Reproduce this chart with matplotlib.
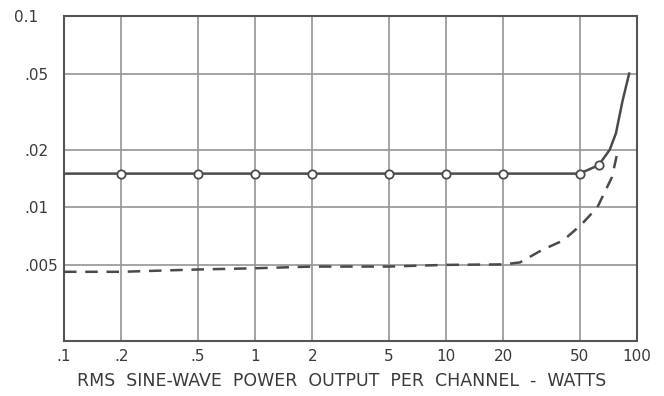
import matplotlib
matplotlib.use("Agg")
import matplotlib.pyplot as plt
import matplotlib.transforms as mtransforms

# Data
x_ticks = [0.1, 0.2, 0.5, 1, 2, 5, 10, 20, 50, 100]
x_tick_labels = [".1", ".2", ".5", "1", "2", "5", "10", "20", "50", "100"]
y_ticks = [0.005, 0.01, 0.02, 0.05, 0.1]
y_tick_labels = [".005", ".01", ".02", ".05", "0.1"]

solid_x = [0.1, 0.2, 0.5, 1, 2, 5, 10, 20, 50, 63, 72, 77.6, 84, 91]
solid_y = [0.015, 0.015, 0.015, 0.015, 0.015, 0.015, 0.015, 0.015, 0.015,
           0.0166, 0.020, 0.0244, 0.036, 0.050]
marker_x = [0.2, 0.5, 1, 2, 5, 10, 20, 50, 63]
marker_y = [0.015, 0.015, 0.015, 0.015, 0.015, 0.015, 0.015, 0.015, 0.0166]

dashed_x = [0.1, 0.2, 0.5, 1, 2, 5, 10, 20, 24.4, 32, 41, 51, 62, 74, 80]
dashed_y = [0.0046, 0.0046, 0.00473, 0.0048, 0.0049, 0.0049, 0.005, 0.00503,
            0.00515, 0.0060, 0.0067, 0.0081, 0.0100, 0.0144, 0.0205]

x_label = "RMS  SINE-WAVE  POWER  OUTPUT  PER  CHANNEL  -  WATTS"

line_col = "#4a4a4a"
grid_col = "#959595"
text_col = "#3a3a3a"

fig = plt.figure(figsize=(6.64, 3.96), dpi=100)
ax = fig.add_axes([64/664, 1-341/396, (637-64)/664, (341-16)/396])
ax.set_xscale("log")
ax.set_yscale("log")
ax.set_xlim(0.1, 100)
ax.set_ylim(0.002, 0.1)

ax.minorticks_off()
ax.set_xticks(x_ticks)
ax.set_xticklabels(x_tick_labels)
ax.set_yticks(y_ticks)
ax.set_yticklabels(y_tick_labels)
ax.tick_params(axis="both", length=0, labelsize=11, colors=text_col)
ax.tick_params(axis="x", pad=6)
ax.tick_params(axis="y", pad=40 * 0.72)
for lbl in ax.get_yticklabels():
    lbl.set_horizontalalignment("left")
    if lbl.get_text() == "0.1":
        lbl.set_transform(lbl.get_transform() +
                          mtransforms.ScaledTranslation(-10/100, 0, fig.dpi_scale_trans))
ax.grid(True, color=grid_col, linewidth=1.2)
for s in ax.spines.values():
    s.set_color("#555555")
    s.set_linewidth(1.5)

ax.plot(solid_x, solid_y, color=line_col, linewidth=1.8, zorder=3)
ax.plot(marker_x, marker_y, linestyle="none", marker="o", markersize=6,
        markerfacecolor="white", markeredgecolor=line_col, markeredgewidth=1.3, zorder=4)
ax.plot(dashed_x, dashed_y, color=line_col, linewidth=1.8, linestyle=(0, (5, 3.5)), zorder=3)

ax.set_xlabel(x_label, fontsize=12.5, color=text_col)
ax.xaxis.set_label_coords((342 - 64) / 573, (341 - 372) / 325)

fig.savefig("out.png", dpi=100)
